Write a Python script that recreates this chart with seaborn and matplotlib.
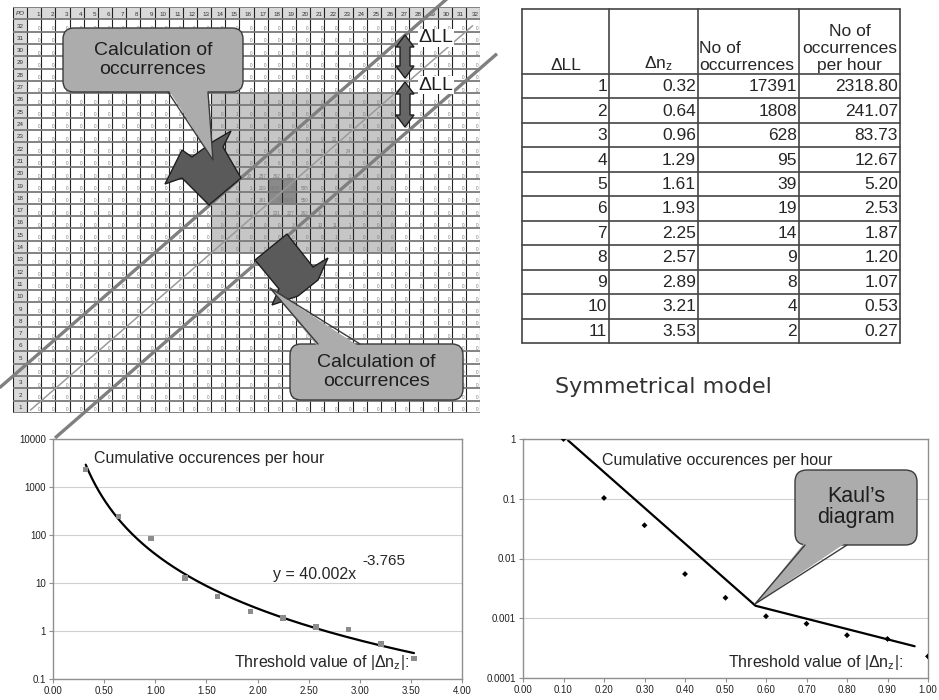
import matplotlib
matplotlib.use("Agg")
import numpy as np
import pandas as pd
import seaborn as sns
import matplotlib.pyplot as plt
from matplotlib.colors import ListedColormap
from matplotlib.patches import Polygon, FancyBboxPatch
from matplotlib.ticker import NullLocator

sns.set_theme(style="white")
plt.rcParams["font.family"] = ["Liberation Sans", "DejaVu Sans"]
plt.rcParams["mathtext.fontset"] = "custom"
plt.rcParams["mathtext.rm"] = "Liberation Sans"
plt.rcParams["mathtext.it"] = "Liberation Sans:italic"

# ---------------- occurrence table ----------------
delta_ll = [1, 2, 3, 4, 5, 6, 7, 8, 9, 10, 11]
delta_nz = [0.32, 0.64, 0.96, 1.29, 1.61, 1.93, 2.25, 2.57, 2.89, 3.21, 3.53]
occurrences = [17391, 1808, 628, 95, 39, 19, 14, 9, 8, 4, 2]
per_hour = [2318.80, 241.07, 83.73, 12.67, 5.20, 2.53, 1.87, 1.20, 1.07, 0.53, 0.27]
table_headers = ["ΔLL", "Δn$_{\\rm z}$", "No of\noccurrences", "No of\noccurrences\nper hour"]

# power-law trend of the cumulative rate
fit_coef = 40.002
fit_exp = -3.765

# Kaul's diagram
kaul_x = [0.1, 0.2, 0.3, 0.4, 0.5, 0.6, 0.7, 0.8, 0.9, 1.0]
kaul_y = [1.0, 0.103, 0.036, 0.0055, 0.0022, 0.00108, 0.00081, 0.00052, 0.00045, 0.00023]
kaul_fit_x = [0.111, 0.574, 0.967]
kaul_fit_y = [0.95, 0.00162, 0.00034]

# PO count grid (rows/cols 1..32); every cell not listed holds 0
grid_labels = list(range(1, 33))
grid_nonzero = {
    (26, 15): 1, (25, 15): 1, (24, 15): 1, (24, 22): 3, (23, 22): 23,
    (22, 16): 1, (22, 23): 24, (21, 17): 8, (21, 18): 6, (21, 21): 4,
    (20, 16): 20, (20, 17): 257, (20, 18): 362, (20, 19): 617, (20, 21): 7, (20, 22): 8,
    (19, 16): 1, (19, 17): 219, (19, 18): 6848, (19, 20): 595,
    (18, 16): 7, (18, 17): 261, (18, 19): 6924, (18, 20): 550, (18, 21): 1,
    (17, 18): 231, (17, 19): 227, (17, 20): 262, (17, 21): 12,
    (16, 19): 3, (16, 21): 13, (16, 22): 11, (16, 23): 1,
    (15, 22): 1, (15, 23): 1,
}
shade_rows = (14, 26)
shade_cols = (14, 26)
peak_rows = (18, 19)
peak_cols = (18, 19)

W, H = 939, 700
fig = plt.figure(figsize=(W / 100, H / 100), dpi=100)


def px_rect(x0, y0, x1, y1):
    return [x0 / W, 1 - y1 / H, (x1 - x0) / W, (y1 - y0) / H]


# ---------------- grid heatmap ----------------
n = len(grid_labels) + 1
shade = np.zeros((n, n))
shade[0, :] = 1
shade[:, 0] = 1
for r in range(shade_rows[0], shade_rows[1] + 1):
    for c in range(shade_cols[0], shade_cols[1] + 1):
        shade[n - r, c] = 2
for r in peak_rows:
    for c in peak_cols:
        shade[n - r, c] = 3

axg = fig.add_axes(px_rect(13, 7, 480, 413))
sns.heatmap(shade, ax=axg, cmap=ListedColormap(["#ffffff", "#d9d9d9", "#c6c6c6", "#8a8a8a"]),
            vmin=-0.5, vmax=3.5, cbar=False, xticklabels=False, yticklabels=False, linewidths=0)
axg.set_xlim(0, n)
axg.set_ylim(n, 0)
axg.vlines(range(n + 1), 0, n, color="#222222", lw=0.8)
axg.hlines(range(n + 1), 0, n, color="#7a7a7a", lw=1.3)
axg.text(0.5, 0.55, "PO", ha="center", va="center", fontsize=4.5, style="italic", color="#333")
for lab in grid_labels:
    axg.text(lab + 0.88, 0.6, str(lab), ha="right", va="center", fontsize=4.5, color="#333")
    axg.text(0.5, n - lab + 0.55, str(lab), ha="center", va="center", fontsize=4.5, color="#333")
for r in grid_labels:
    for c in grid_labels:
        v = grid_nonzero.get((r, c), 0)
        axg.text(c + 0.9, n - r + 0.95, str(v), ha="right", va="bottom", fontsize=3.3, color="#7a7a7a")

# diagonal bands: centre line through the peak and the ±ΔLL limits
for off, lw, col, c0, c1 in [(30, 2.4, "#7f7f7f", -0.95, 31.2), (34, 1.1, "#9a9a9a", 1.2, 32.5),
                             (38, 2.4, "#7f7f7f", 2.97, 34.2)]:
    cs = np.array([c0, c1])
    axg.plot(cs, off - cs, color=col, lw=lw, clip_on=False, zorder=5, solid_capstyle="butt")
axg.set_axis_off()

# ---------------- left chart: power law ----------------
ax1 = fig.add_axes(px_rect(53, 439, 462, 679))
df1 = pd.DataFrame({"threshold": delta_nz, "rate": per_hour})
xs = np.linspace(delta_nz[0], delta_nz[-1], 300)
sns.lineplot(x=xs, y=fit_coef * xs ** fit_exp, ax=ax1, color="black", lw=1.6)
sns.scatterplot(data=df1, x="threshold", y="rate", ax=ax1, marker="s", color="#8c8c8c",
                s=16, edgecolor="none", zorder=3)
ax1.set_yscale("log")
ax1.set_xlim(0, 4)
ax1.set_ylim(0.1, 10000)
ax1.set_xticks(np.arange(0, 4.01, 0.5))
ax1.set_xticklabels([f"{v:.2f}" for v in np.arange(0, 4.01, 0.5)])
ax1.set_yticks([0.1, 1, 10, 100, 1000, 10000])
ax1.set_yticklabels(["0.1", "1", "10", "100", "1000", "10000"])

# ---------------- right chart: Kaul's diagram ----------------
ax2 = fig.add_axes(px_rect(523, 439, 928, 678))
sns.lineplot(x=kaul_fit_x, y=kaul_fit_y, ax=ax2, color="black", lw=1.6)
sns.scatterplot(x=kaul_x, y=kaul_y, ax=ax2, marker="D", color="black", s=9, edgecolor="none", zorder=3)
ax2.set_yscale("log")
ax2.set_xlim(0, 1)
ax2.set_ylim(0.0001, 1)
ax2.set_xticks(np.arange(0, 1.001, 0.1))
ax2.set_xticklabels([f"{v:.2f}" for v in np.arange(0, 1.001, 0.1)])
ax2.set_yticks([0.0001, 0.001, 0.01, 0.1, 1])
ax2.set_yticklabels(["0.0001", "0.001", "0.01", "0.1", "1"])

for ax in (ax1, ax2):
    ax.yaxis.set_minor_locator(NullLocator())
    ax.grid(axis="y", color="#d0d0d0", lw=0.8)
    ax.grid(axis="x", visible=False)
    ax.set_xlabel("")
    ax.set_ylabel("")
    for sp in ax.spines.values():
        sp.set_visible(True)
        sp.set_color("#8f8f8f")
        sp.set_linewidth(1.0)
    ax.tick_params(direction="out", length=3, width=0.8, color="#8f8f8f", labelsize=7,
                   labelcolor="#222222", pad=2, bottom=True, left=True)

# ---------------- overlay: table, callouts, labels ----------------
ov = fig.add_axes([0, 0, 1, 1], zorder=10)
ov.set_xlim(0, W)
ov.set_ylim(H, 0)
ov.set_axis_off()

col_x = [522, 609, 698, 799, 900]
head_top, head_bot, row_h = 9, 74, 24.45
table_bot = head_bot + row_h * len(delta_ll)
for x in col_x:
    ov.plot([x, x], [head_top, table_bot], color="#444444", lw=1.2)
ov.plot([col_x[0], col_x[-1]], [head_top, head_top], color="#444444", lw=1.2)
for k in range(len(delta_ll) + 1):
    y = head_bot + row_h * k
    ov.plot([col_x[0], col_x[-1]], [y, y], color="#444444", lw=1.2)
tfs = 12.5
ov.text((col_x[0] + col_x[1]) / 2, 73, table_headers[0], ha="center", va="bottom", fontsize=tfs)
ov.text((col_x[1] + col_x[2]) / 2 + 5, 73, table_headers[1], ha="center", va="bottom", fontsize=tfs)
ov.text(col_x[2] + 1, 73, table_headers[2], ha="left", va="bottom", fontsize=tfs, linespacing=1.15)
ov.text((col_x[3] + col_x[4]) / 2, 73, table_headers[3], ha="center", va="bottom", fontsize=tfs,
        linespacing=1.15)
for k in range(len(delta_ll)):
    yc = head_bot + row_h * (k + 0.5) + 0.5
    cells = [str(delta_ll[k]), f"{delta_nz[k]:.2f}", str(occurrences[k]), f"{per_hour[k]:.2f}"]
    for j, s in enumerate(cells):
        ov.text(col_x[j + 1] - 2, yc, s, ha="right", va="center", fontsize=tfs)

ov.text(555, 387, "Symmetrical model", ha="left", va="center", fontsize=16,
        family="DejaVu Sans", color="#333333")

# dark block arrows on the grid
dark_fc, dark_ec = "#5a5a5a", "#1e1e1e"
upper_block = [(165, 184), (182, 150), (192, 157), (214, 141), (231, 131), (223, 147),
               (241, 178), (209, 205), (182, 178)]
lower_block = [(255, 260), (287, 234), (313, 267), (328, 258), (318, 280), (298, 296),
               (272, 305), (279, 289)]
for poly in (upper_block, lower_block):
    ov.add_patch(Polygon(poly, closed=True, fc=dark_fc, ec=dark_ec, lw=1, zorder=3))


def callout(x0, y0, x1, y1, base, tip, text, fs, spacing=1.2, rad=11, fc="#acacac"):
    ov.add_patch(FancyBboxPatch((x0 + rad, y0 + rad), x1 - x0 - 2 * rad, y1 - y0 - 2 * rad,
                                boxstyle=f"round,pad={rad}", fc=fc, ec="#3a3a3a", lw=1, zorder=4))
    (bx0, by0), (bx1, by1) = base
    inset = 3 if by0 < tip[1] else -3
    ov.add_patch(Polygon([(bx0, by0 - inset), tip, (bx1, by1 - inset)], closed=True,
                         fc=fc, ec="none", zorder=5))
    ov.plot([bx0, tip[0], bx1], [by0, tip[1], by1], color="#3a3a3a", lw=1, zorder=6)
    ov.text((x0 + x1) / 2, (y0 + y1) / 2, text, ha="center", va="center", fontsize=fs,
            color="#1e1e1e", linespacing=spacing, zorder=7)


callout(63, 28, 243, 92, [(168, 92), (208, 92)], (213, 160), "Calculation of\noccurrences", 14)
callout(290, 344, 463, 400, [(318, 344), (360, 344)], (270, 288), "Calculation of\noccurrences", 14)
callout(795, 470, 917, 545, [(805, 545), (847, 545)], (755, 604), "Kaul’s\ndiagram", 15.5,
        spacing=1.0, rad=12)


# ΔLL double arrows
def double_arrow(x, ya, yb, hw=9, sw=5, hl=12):
    pts = [(x, ya), (x + hw, ya + hl), (x + sw, ya + hl), (x + sw, yb - hl), (x + hw, yb - hl),
           (x, yb), (x - hw, yb - hl), (x - sw, yb - hl), (x - sw, ya + hl), (x - hw, ya + hl)]
    ov.add_patch(Polygon(pts, closed=True, fc="#666666", ec="#1e1e1e", lw=1, zorder=4))


double_arrow(405, 35, 78)
double_arrow(405, 82, 127)
for yc in (38, 85):
    ov.text(436, yc, "ΔLL", ha="center", va="center", fontsize=14, color="#1e1e1e", zorder=4,
            bbox=dict(boxstyle="square,pad=0.05", fc="white", ec="none"))

# chart annotations
ov.text(94, 459, "Cumulative occurences per hour", ha="left", va="center", fontsize=11.5)
ov.text(273, 575, "y = 40.002x", ha="left", va="center", fontsize=11.5)
ov.text(362, 561, "-3.765", ha="left", va="center", fontsize=11)
ov.text(409, 662, "Threshold value of |Δn$_{\\rm z}$|:", ha="right", va="center", fontsize=11.5)
ov.text(602, 461, "Cumulative occurences per hour", ha="left", va="center", fontsize=11.5)
ov.text(903, 662, "Threshold value of |Δn$_{\\rm z}$|:", ha="right", va="center", fontsize=11.5)

fig.savefig("out.png", dpi=100)
